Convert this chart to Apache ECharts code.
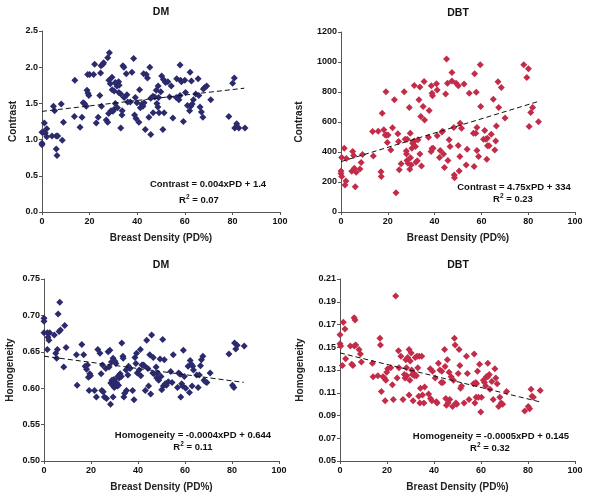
<!DOCTYPE html>
<html>
<head>
<meta charset="utf-8">
<script src="https://cdn.jsdelivr.net/npm/echarts@6/dist/echarts.min.js"></script>
<style>html,body{margin:0;padding:0;background:#fff}#c{width:592px;height:499px}</style>
</head>
<body>
<div id="c"></div>
<script>
// ---------- DATA ----------
const xTicks = [0, 20, 40, 60, 80, 100];
const dmContrastPD = [0,0,0,0.7,1,1.4,2,2,4.2,4.8,5.3,6,6.6,6,6.3,8.1,8.5,9,13.8,13.6,16,16.8,17.3,17.8,18.6,18.9,19.3,19.7,19.2,20,21.7,22.1,22.8,23.6,24.3,24.8,24.6,25,25.6,25.9,27,27.6,27.6,28,28.3,28.1,28.7,29,29.4,29.8,29.5,30.3,30.3,30.8,30.8,31.2,31.5,31.7,32.2,32.3,32.4,33.1,33.1,33.6,33.7,34,34.4,34.5,35.4,35.7,36,37.1,37.8,38.5,38.9,39.2,39.5,39.9,40.7,41,41.3,42,42.4,42.7,42.9,43.4,43.8,44.3,44.9,45.3,45.7,45.7,46.6,46.7,47.4,48,48.3,48.7,48.8,49,49.2,49.9,50.3,50.8,51,51.3,51.9,52.9,53.6,54.3,55,56.4,56.6,57.5,58,58,58.2,58.6,59.4,60,60.3,61.1,62,62.2,62.5,62.8,63.1,63.6,64.6,65.6,65.9,66.4,67,67.6,67.8,68.4,69.2,70.9,78.5,80.1,80.8,81,81.8,82.7,85.3];
const dmContrast = [0.95,0.93,1.10,1.10,1.23,1.09,1.15,1.04,1.05,1.46,1.40,1.05,1.05,0.87,0.78,1.49,0.99,1.24,1.82,1.32,1.17,1.31,1.51,1.50,1.46,1.68,1.64,1.61,1.90,1.90,1.90,2.04,1.23,1.31,1.61,2.02,1.92,1.46,2.04,2.06,1.27,2.13,1.24,1.36,2.20,1.82,1.77,1.40,1.86,1.39,1.69,1.67,1.42,1.79,1.50,1.77,1.74,1.44,1.80,1.65,1.75,1.63,1.16,1.34,1.40,2.02,2.00,1.58,1.91,1.62,1.52,1.52,1.93,2.12,1.34,1.58,1.29,1.51,1.24,1.69,1.44,1.49,1.46,1.91,1.51,1.14,1.90,1.85,1.31,2.00,1.57,1.07,1.60,1.37,1.59,1.68,1.50,1.45,1.74,1.58,1.37,1.66,1.88,1.14,1.83,1.37,1.79,1.80,1.59,1.74,1.30,1.58,1.84,1.55,2.03,1.61,1.82,1.80,1.25,1.82,1.65,1.47,1.40,1.93,1.46,1.81,1.49,1.55,1.63,1.84,1.61,1.45,1.38,1.31,1.70,1.72,1.74,1.55,1.32,1.78,1.85,1.16,1.22,1.16,1.16];
const dbtContrastPD = [0,0,0.3,0.3,1.4,1.7,2.3,2.1,4.6,5,5.4,5.7,6.1,6.5,8.1,8.6,9.2,13.5,13.8,15.9,17.1,17.2,17.6,18.3,18.9,19.5,19.2,19.8,20.1,21.3,22,22.8,23.5,24.3,24.6,24.9,25.7,27,27.4,27.9,28,28.2,28.3,28.6,29.2,29.4,29.6,29.7,30,30.3,30.6,31,31.3,31.4,31.8,32,32.6,32.9,33.3,33.7,33.7,34.1,34.4,35.1,35.5,35.7,37.4,37.7,38.5,38.6,38.9,38.9,39.1,39.4,40.8,41.1,41.1,42.1,42.4,43.1,43.4,43.8,44.2,44.7,45.1,45.5,45.7,46.2,46.6,47.4,47.4,48.2,48.4,48.5,49.2,50.1,50.1,50.5,50.8,50.9,51.5,52.6,53.5,53.9,54.8,56.6,56.9,57.1,57.6,57.8,58.1,58.1,58.8,59.5,59.7,60.9,61.4,61.9,62.5,62.3,62.6,63.3,64.2,65.1,65.7,66.1,66.4,67.1,67.4,68.5,70.1,78.1,79.4,80.1,80.4,81.1,81.9,84.4];
const dbtContrast = [274,256,236,363,425,180,356,207,272,403,376,292,169,265,287,330,383,537,374,539,269,236,659,548,514,514,801,463,514,414,561,748,129,521,470,281,321,801,485,407,387,343,485,325,697,285,525,361,314,425,459,470,844,474,436,332,341,481,748,833,387,637,307,704,870,614,499,677,403,842,423,792,775,425,855,813,508,363,410,534,539,387,296,786,1020,859,343,481,436,930,873,563,247,229,859,842,443,274,370,592,559,853,314,419,792,525,303,922,525,799,563,410,370,982,704,485,543,485,492,352,441,441,519,752,414,474,574,868,697,830,626,982,897,955,570,663,697,601];
const dmHomPD = [0,0,0,1.4,1.4,1.7,2.1,2.4,4.4,5,5.4,5.7,6,6.4,6.7,7,8.4,8.8,9.4,13.8,14.1,16.1,16.9,17.5,18.1,18.5,18.9,19.2,19.5,19.8,21.5,22.3,22.9,23.8,24.3,24.6,24.9,25.2,25.7,26.3,26.6,27.3,27.7,28,28.3,28.4,28.7,28.9,29.2,29.4,29.4,29.7,29.9,30.2,30.3,30.6,30.9,31.2,31.4,31.7,32,32.4,32.9,33.1,33.6,33.7,34,34.3,34.9,35.1,35.7,36,36.6,37.7,38.3,38.7,39.1,39.4,39.7,40.5,41,41.2,41.7,42.2,42.7,43.1,43.7,44.2,44.5,45,45.4,45.8,46.3,46.5,46.8,47.7,48,48.4,48.8,49.4,49.8,50.1,50.5,50.8,51.2,51.6,52.1,52.9,53.9,54.5,55,56.8,57.3,57.9,58.2,58.6,59,59.3,59.7,60.3,61.3,61.9,62.2,62.7,63,63.3,63.6,65,65.6,66.1,66.6,67,67.6,68.1,68.7,69.3,70.7,78.7,80.2,80.8,81.1,81.6,82.2,85.2];
const dmHom = [0.696,0.692,0.676,0.676,0.653,0.670,0.666,0.676,0.673,0.648,0.641,0.653,0.702,0.678,0.718,0.680,0.629,0.686,0.656,0.646,0.604,0.660,0.646,0.630,0.626,0.632,0.615,0.597,0.620,0.617,0.597,0.588,0.653,0.648,0.620,0.597,0.632,0.595,0.588,0.627,0.586,0.650,0.629,0.652,0.578,0.607,0.636,0.611,0.604,0.641,0.588,0.612,0.601,0.637,0.607,0.634,0.607,0.603,0.616,0.604,0.614,0.620,0.616,0.662,0.644,0.641,0.588,0.593,0.625,0.597,0.618,0.630,0.627,0.597,0.584,0.642,0.634,0.648,0.621,0.625,0.653,0.617,0.632,0.632,0.631,0.597,0.666,0.627,0.603,0.646,0.592,0.673,0.621,0.642,0.620,0.629,0.614,0.621,0.611,0.640,0.616,0.598,0.667,0.603,0.639,0.606,0.604,0.609,0.623,0.608,0.646,0.601,0.621,0.619,0.588,0.606,0.603,0.652,0.616,0.600,0.630,0.594,0.638,0.633,0.603,0.630,0.625,0.618,0.601,0.618,0.631,0.639,0.644,0.611,0.609,0.608,0.621,0.647,0.604,0.601,0.662,0.654,0.659,0.658];
const dbtHomPD = [0,0,0.3,1,1.4,2.1,2.4,4.4,5,5.5,6,6.4,6.1,6.7,8.1,8.7,9.1,13.8,14.1,16.1,17,17.2,17.6,18.3,18.9,19.2,19.5,19.9,20.3,21.6,22.3,22.7,23.7,24.3,24.9,25.1,25.9,26.8,27.4,27.7,28,28.3,28.4,28.8,29.4,29.4,29.7,29.9,30.3,30.5,30.8,31.1,31.4,31.7,32,32.5,32.8,33.1,33.5,33.7,34,34.2,34.8,35.1,35.7,36,37.7,38.4,38.5,39.1,39.4,40.5,41,41.3,41.9,42.5,43.1,43.3,43.8,44.5,44.7,45,45.3,45.7,46,46.4,46.7,47.3,47.9,48.3,48.7,49,49.3,49.7,50.3,50.7,51,51.3,51.7,52.8,53.8,54.2,54.9,56.8,57.1,57.4,57.8,57.9,58.1,58.5,58.9,59.4,59.9,60.2,61,61.5,62,62.3,62.9,62.9,63.5,63.8,64.6,65.2,65.9,66.3,66.9,67.5,68,68.6,69.2,70.9,78.6,80.1,80.7,81.3,81.7,82.3,85.2];
const dbtHom = [0.161,0.153,0.151,0.134,0.172,0.166,0.140,0.151,0.135,0.134,0.176,0.174,0.151,0.152,0.148,0.144,0.137,0.136,0.124,0.125,0.158,0.152,0.111,0.124,0.123,0.103,0.121,0.128,0.131,0.132,0.117,0.104,0.195,0.123,0.147,0.132,0.142,0.104,0.126,0.123,0.139,0.132,0.125,0.141,0.148,0.108,0.121,0.138,0.145,0.130,0.126,0.103,0.127,0.125,0.141,0.125,0.142,0.132,0.107,0.142,0.101,0.114,0.142,0.108,0.101,0.115,0.109,0.131,0.105,0.103,0.129,0.123,0.102,0.101,0.136,0.130,0.119,0.129,0.119,0.148,0.133,0.105,0.099,0.139,0.101,0.128,0.104,0.124,0.098,0.121,0.158,0.152,0.101,0.100,0.127,0.148,0.134,0.114,0.116,0.101,0.142,0.127,0.104,0.118,0.144,0.101,0.119,0.106,0.118,0.129,0.106,0.135,0.093,0.106,0.121,0.119,0.116,0.124,0.136,0.124,0.126,0.113,0.120,0.104,0.131,0.123,0.118,0.098,0.106,0.101,0.100,0.111,0.094,0.098,0.096,0.113,0.107,0.106,0.112];
// trend line endpoints (PD, value)
const trendPD = [0, 85];
const dmContrastTrend = [1.39, 1.71];
const dbtContrastTrend = [336, 740];
const dmHomTrend = [0.644, 0.608];
const dbtHomTrend = [0.145, 0.102];
const titles = ['DM', 'DBT', 'DM', 'DBT'];
const yNames = ['Contrast', 'Contrast', 'Homogeneity', 'Homogeneity'];
const xName = 'Breast Density (PD%)';
const eqText = ['Contrast = 0.004xPD + 1.4', 'Contrast = 4.75xPD + 334', 'Homogeneity = -0.0004xPD + 0.644', 'Homogeneity = -0.0005xPD + 0.145'];
const r2Value = ['0.07', '0.23', '0.11', '0.32'];
const yAxes = [
  {min: 0, max: 2.5, interval: 0.5, dec: 1},
  {min: 0, max: 1200, interval: 200, dec: 0},
  {min: 0.5, max: 0.75, interval: 0.05, dec: 2},
  {min: 0.05, max: 0.21, interval: 0.02, dec: 2}
];

// ---------- CHART ----------
const NAVY = '#2a2a6c', RED = '#c22c48';
const font = 'Liberation Sans, Arial, sans-serif';
const grids = [
  {left: 42, top: 31, width: 238, height: 181},
  {left: 341, top: 32, width: 234, height: 180},
  {left: 44, top: 279, width: 235, height: 182},
  {left: 340, top: 279, width: 235, height: 182}
];
const yNameGap = [24, 37, 29, 35];
const eqPos = [[208, 184, 199, 200], [514, 187, 513, 199], [193, 435, 193, 447], [491, 436, 490, 448]];
const titleX = [161, 458, 161, 458];
const titleY = [12, 13, 265, 265];

function pairs(xs, ys) { return xs.map((x, i) => [x, ys[i]]); }
const scatterData = [pairs(dmContrastPD, dmContrast), pairs(dbtContrastPD, dbtContrast), pairs(dmHomPD, dmHom), pairs(dbtHomPD, dbtHom)];
const trendData = [pairs(trendPD, dmContrastTrend), pairs(trendPD, dbtContrastTrend), pairs(trendPD, dmHomTrend), pairs(trendPD, dbtHomTrend)];
const colors = [NAVY, RED, NAVY, RED];

const axisLine = {show: true, lineStyle: {color: '#555', width: 1}};
const nameStyle = {fontFamily: font, fontWeight: 'bold', fontSize: 10, color: '#222'};
const option = {
  animation: false,
  backgroundColor: '#fff',
  grid: grids,
  xAxis: grids.map((g, i) => ({
    gridIndex: i, type: 'value', min: 0, max: 100, interval: 20,
    name: xName, nameLocation: 'middle', nameGap: 21, nameTextStyle: nameStyle,
    axisLine: axisLine, axisTick: {show: true, length: 3, lineStyle: {color: '#555'}},
    axisLabel: {fontFamily: font, fontWeight: 'bold', fontSize: 9, color: '#111', margin: 5},
    splitLine: {show: false}
  })),
  yAxis: yAxes.map((a, i) => ({
    gridIndex: i, type: 'value', min: a.min, max: a.max, interval: a.interval,
    name: yNames[i], nameLocation: 'middle', nameGap: yNameGap[i], nameTextStyle: nameStyle,
    axisLine: axisLine, axisTick: {show: true, length: 3, lineStyle: {color: '#555'}},
    axisLabel: {fontFamily: font, fontWeight: 'bold', fontSize: 9, color: '#111', margin: 4,
      formatter: v => v.toFixed(a.dec)},
    splitLine: {show: false}
  })),
  series: [
    ...scatterData.map((d, i) => ({
      type: 'scatter', xAxisIndex: i, yAxisIndex: i, data: d,
      symbol: 'diamond', symbolSize: 7, itemStyle: {color: colors[i], opacity: 1}, silent: true
    })),
    ...trendData.map((d, i) => ({
      type: 'line', xAxisIndex: i, yAxisIndex: i, data: d, symbol: 'none', z: 5,
      lineStyle: {color: '#111', width: 1, type: [5, 3]}, silent: true
    }))
  ],
  graphic: [
    ...titles.map((t, i) => ({type: 'text', x: titleX[i], y: titleY[i],
      style: {text: t, fill: '#111', font: 'bold 10.5px ' + font, textAlign: 'center', textVerticalAlign: 'middle'}})),
    ...eqText.map((t, i) => ({type: 'text', x: eqPos[i][0], y: eqPos[i][1],
      style: {text: t, fill: '#111', font: 'bold 9.5px ' + font, textAlign: 'center', textVerticalAlign: 'middle'}})),
    ...r2Value.map((t, i) => ({type: 'text', x: eqPos[i][2], y: eqPos[i][3],
      style: {text: '{a|R}{s|2}{a| = ' + t + '}', textAlign: 'center', textVerticalAlign: 'middle',
        rich: {
          a: {fill: '#111', fontFamily: font, fontWeight: 'bold', fontSize: 9.5},
          s: {fill: '#111', fontFamily: font, fontWeight: 'bold', fontSize: 6.5, padding: [0, 0, 5, 0]}
        }}}))
  ]
};
echarts.init(document.getElementById('c')).setOption(option);
</script>
</body>
</html>
